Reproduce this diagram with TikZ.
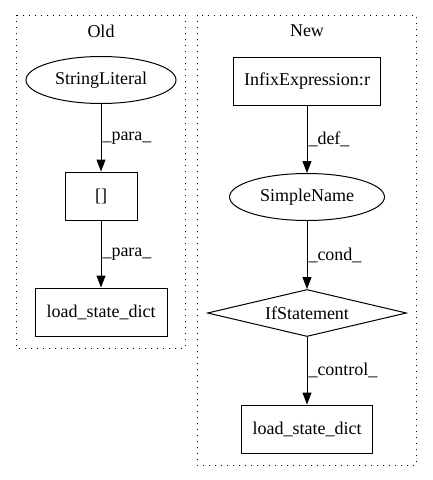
\documentclass[tikz,border=0pt]{standalone}
\usepackage{fontspec}
\setmainfont{Liberation Serif}
\usetikzlibrary{positioning, shapes.geometric, arrows.meta}

\begin{document}
\begin{tikzpicture}[x = 1pt, y = -1pt, node distance = 116pt, on grid, auto,
    every node/.style = {font = \fontsize{18}{20}\selectfont},
    box/.style = {draw, rectangle, line width = 1pt, minimum height = 48pt, inner sep = 0pt},
    oval/.style = {draw, ellipse, line width = 1pt, minimum height = 47pt, inner sep = 0pt},
    cond/.style = {draw, diamond, line width = 1pt, aspect = 4.2, minimum width = 199pt, minimum height = 47pt, inner sep = 0pt},
    cluster/.style = {draw, line width = 1pt, dash pattern = on 1.3pt off 4.7pt},
    lbl/.style = {inner sep = 1pt}]
  \useasboundingbox (0,0) rectangle (432,480);
  \draw[cluster] (16,15) rectangle (185,348);
  \draw[cluster] (197,15) rectangle (416,465);
  \node (old) at (101,31) {Old};
  \node (new) at (307,31) {New};
  \node[oval, minimum width = 150pt] (strlit) at (101,80) {StringLiteral};
  \node[box, minimum width = 72pt] (idx) [below=of strlit] {[]};
  \node[box, minimum width = 132pt] (loadold) [below=of idx] {load\_state\_dict};
  \node[box, minimum width = 147pt] (infix) at (307,81) {InfixExpression:r};
  \node[oval, minimum width = 155pt] (simple) [below=of infix] {SimpleName};
  \node[cond] (ifstmt) [below=of simple] {IfStatement};
  \node[box, minimum width = 131pt] (loadnew) [below=of ifstmt] {load\_state\_dict};
  \path[-{Triangle[length = 12pt, width = 9pt]}, line width = 1pt]
    (strlit) edge node[lbl] {\_para\_} (idx)
    (idx) edge node[lbl] {\_para\_} (loadold)
    (infix) edge node[lbl] {\_def\_} (simple)
    (simple) edge node[lbl] {\_cond\_} (ifstmt)
    (ifstmt) edge node[lbl] {\_control\_} (loadnew);
\end{tikzpicture}
\end{document}
